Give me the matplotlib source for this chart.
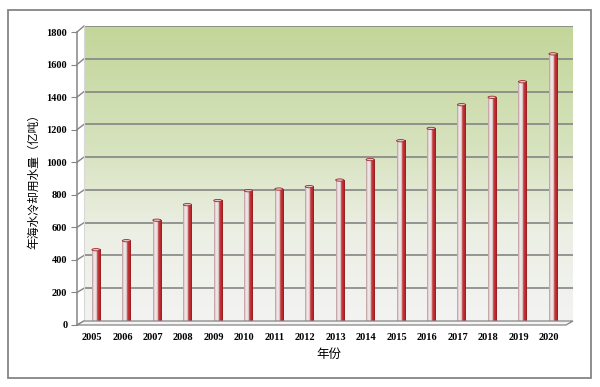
import numpy as np
import matplotlib
matplotlib.use('Agg')
import matplotlib.pyplot as plt
from matplotlib.colors import LinearSegmentedColormap
from matplotlib.patches import Rectangle, Polygon, Ellipse
from matplotlib.lines import Line2D
from matplotlib.transforms import ScaledTranslation, IdentityTransform

years = ['2005', '2006', '2007', '2008', '2009', '2010', '2011', '2012',
         '2013', '2014', '2015', '2016', '2017', '2018', '2019', '2020']
water = [435, 490, 615, 710, 735, 795, 805, 820,
         860, 985, 1100, 1175, 1320, 1365, 1460, 1630]
yticks = [0, 200, 400, 600, 800, 1000, 1200, 1400, 1600, 1800]

W, H = 600, 387
fig = plt.figure(figsize=(6, 3.87), dpi=100)
fig.patch.set_facecolor('white')

def fx(px):
    return px / W

def fy(py):
    return 1 - py / H

# outer frame
fig.add_artist(Rectangle((fx(8), fy(378)), fx(583), (378 - 10) / H,
                         transform=fig.transFigure, fill=False,
                         edgecolor='#858585', linewidth=1.3))

# back wall axes
ax = fig.add_axes([fx(84), fy(321), fx(573 - 84), (321 - 26) / H])
xl = (-0.394, 15.656)
ax.set_xlim(*xl)
ax.set_ylim(0, 1800)

bg = LinearSegmentedColormap.from_list(
    'bg', [(0, '#f3f3f2'), (0.3, '#ecefe4'), (0.6, '#d6e2bd'), (1, '#c3d699')])
grad = np.linspace(0, 1, 256).reshape(-1, 1)
ax.imshow(grad, extent=[xl[0], xl[1], 0, 1800], aspect='auto', origin='lower',
          cmap=bg, zorder=0)

for v in yticks[1:]:
    ax.axhline(v, color='#858585', linewidth=1.2, zorder=1)

# cylinder bars
barcm = LinearSegmentedColormap.from_list(
    'bar', [(0, '#b89496'), (0.2, '#eee3e4'), (0.38, '#f0e8e9'),
            (0.55, '#d2b6b8'), (0.62, '#c8383c'), (0.85, '#bb2a2e'),
            (1, '#8e1a1d')])
hgrad = np.linspace(0, 1, 64).reshape(1, -1)
bw = 0.27
x = np.arange(len(years))
for xi, v in zip(x, water):
    ax.imshow(hgrad, extent=[xi - bw / 2, xi + bw / 2, 0, v], aspect='auto',
              cmap=barcm, zorder=3)
    ax.add_patch(Ellipse((xi, v), bw, 14, facecolor='#e2c8c9',
                         edgecolor='#9c2a2e', linewidth=0.6, zorder=4))

ax.set_xlim(*xl)
ax.set_ylim(0, 1800)
for s in ax.spines.values():
    s.set_visible(False)
ax.set_yticks([])
ax.set_xticks(x)
ax.set_xticklabels(years, fontfamily='Liberation Serif', fontweight='bold',
                   fontsize=7.5)
ax.tick_params(axis='x', length=0, pad=9)
shift = ScaledTranslation(-4 / 100, 0, fig.dpi_scale_trans)
for lab in ax.get_xticklabels():
    lab.set_transform(lab.get_transform() + shift)

ax.set_xlabel('年份', fontfamily=['Noto Sans CJK SC', 'DejaVu Sans'],
              fontsize=9, labelpad=4)

# front left edge with tick labels
ax2 = fig.add_axes([fx(77), fy(325), 0.001, (325 - 32) / H])
ax2.set_ylim(0, 1800)
ax2.set_xlim(0, 1)
ax2.patch.set_alpha(0)
for k in ['top', 'right', 'bottom']:
    ax2.spines[k].set_visible(False)
ax2.spines['left'].set_color('#858585')
ax2.spines['left'].set_linewidth(1.1)
ax2.set_xticks([])
ax2.set_yticks(yticks)
ax2.set_yticklabels([str(v) for v in yticks], fontfamily='Liberation Serif',
                    fontweight='bold', fontsize=7.5)
ax2.tick_params(axis='y', length=4, color='#858585', pad=3)
ax2.set_ylabel('年海水冷却用水量（亿吨）',
               fontfamily=['Noto Sans CJK SC', 'DejaVu Sans'], fontsize=8.5,
               labelpad=5)

# side wall and floor
fig.canvas.draw()
for v in yticks:
    p0 = ax2.transData.transform((0, v))
    p1 = ax.transData.transform((xl[0], v))
    fig.add_artist(Line2D([p0[0], p1[0]], [p0[1], p1[1]],
                          transform=IdentityTransform(), color='#858585',
                          linewidth=1.0))
top1 = ax.transData.transform((xl[0], 1800))
bot1 = ax.transData.transform((xl[0], 0))
fig.add_artist(Line2D([top1[0], bot1[0]], [top1[1], bot1[1]],
                      transform=IdentityTransform(), color='#d8d8d8',
                      linewidth=0.8))
fr0 = ax2.transData.transform((0, 0))
br1 = ax.transData.transform((xl[1], 0))
floor = Polygon([fr0, bot1, br1, (br1[0] - (bot1[0] - fr0[0]), fr0[1])],
                closed=True, transform=IdentityTransform(),
                facecolor='#f4f4f4', edgecolor='#858585', linewidth=0.9,
                zorder=2)
fig.add_artist(floor)

fig.savefig('out.png', dpi=100)
